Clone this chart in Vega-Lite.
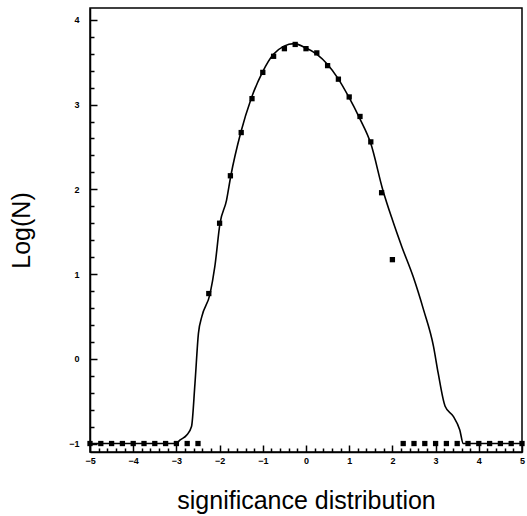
{
  "$schema": "https://vega.github.io/schema/vega-lite/v6.json",
  "width": 432,
  "height": 444,
  "autosize": {"type": "none"},
  "padding": {"left": 90, "top": 8, "right": 5, "bottom": 64},
  "background": "white",
  "config": {
    "view": {"stroke": "black", "strokeWidth": 1.5},
    "axis": {
      "grid": false,
      "ticks": true,
      "zindex": 1,
      "domainColor": "black",
      "domainWidth": 1.5,
      "tickColor": "black",
      "labelFont": "Liberation Sans",
      "labelFontSize": 9,
      "labelFontWeight": "bold",
      "labelColor": "black",
      "titleFont": "Liberation Sans",
      "titleFontSize": 25,
      "titleFontWeight": "normal",
      "titleColor": "black"
    }
  },
  "datasets": {
    "curve": [
      {"s": -5, "logn": -1},
      {"s": -3.0, "logn": -1},
      {"s": -2.92, "logn": -0.96},
      {"s": -2.76, "logn": -0.9},
      {"s": -2.65, "logn": -0.8},
      {"s": -2.57, "logn": -0.29},
      {"s": -2.49, "logn": 0.3},
      {"s": -2.41, "logn": 0.5},
      {"s": -2.22, "logn": 0.77},
      {"s": -2.11, "logn": 1.09},
      {"s": -1.99, "logn": 1.6},
      {"s": -1.84, "logn": 1.87},
      {"s": -1.74, "logn": 2.16},
      {"s": -1.51, "logn": 2.67},
      {"s": -1.27, "logn": 3.07},
      {"s": -1.01, "logn": 3.38},
      {"s": -0.76, "logn": 3.59},
      {"s": -0.51, "logn": 3.69},
      {"s": -0.28, "logn": 3.72},
      {"s": -0.01, "logn": 3.67},
      {"s": 0.26, "logn": 3.59},
      {"s": 0.49, "logn": 3.48},
      {"s": 0.74, "logn": 3.31},
      {"s": 0.99, "logn": 3.09},
      {"s": 1.24, "logn": 2.84},
      {"s": 1.5, "logn": 2.54},
      {"s": 1.78, "logn": 1.99},
      {"s": 2.0, "logn": 1.64},
      {"s": 2.22, "logn": 1.32},
      {"s": 2.48, "logn": 0.97},
      {"s": 2.72, "logn": 0.58},
      {"s": 2.95, "logn": 0.15},
      {"s": 3.06, "logn": -0.17},
      {"s": 3.22, "logn": -0.56},
      {"s": 3.41, "logn": -0.68},
      {"s": 3.56, "logn": -0.84},
      {"s": 3.64, "logn": -1},
      {"s": 5, "logn": -1}
    ],
    "points": [
      {"s": -5, "logn": -1}, {"s": -4.75, "logn": -1}, {"s": -4.5, "logn": -1}, {"s": -4.25, "logn": -1},
      {"s": -4, "logn": -1}, {"s": -3.75, "logn": -1}, {"s": -3.5, "logn": -1}, {"s": -3.25, "logn": -1},
      {"s": -3, "logn": -1}, {"s": -2.75, "logn": -1}, {"s": -2.5, "logn": -1},
      {"s": -2.25, "logn": 0.77},
      {"s": -2.0, "logn": 1.6},
      {"s": -1.75, "logn": 2.16},
      {"s": -1.5, "logn": 2.67},
      {"s": -1.25, "logn": 3.07},
      {"s": -1.0, "logn": 3.38},
      {"s": -0.75, "logn": 3.57},
      {"s": -0.5, "logn": 3.66},
      {"s": -0.25, "logn": 3.71},
      {"s": 0.0, "logn": 3.66},
      {"s": 0.25, "logn": 3.61},
      {"s": 0.5, "logn": 3.46},
      {"s": 0.75, "logn": 3.3},
      {"s": 1.0, "logn": 3.09},
      {"s": 1.25, "logn": 2.86},
      {"s": 1.5, "logn": 2.56},
      {"s": 1.75, "logn": 1.96},
      {"s": 2.0, "logn": 1.17},
      {"s": 2.25, "logn": -1}, {"s": 2.5, "logn": -1}, {"s": 2.75, "logn": -1}, {"s": 3.0, "logn": -1},
      {"s": 3.25, "logn": -1}, {"s": 3.5, "logn": -1}, {"s": 3.75, "logn": -1}, {"s": 4.0, "logn": -1},
      {"s": 4.25, "logn": -1}, {"s": 4.5, "logn": -1}, {"s": 4.75, "logn": -1}, {"s": 5.0, "logn": -1}
    ]
  },
  "encoding": {
    "x": {
      "field": "s",
      "type": "quantitative",
      "scale": {"domain": [-5, 5], "nice": false, "zero": false},
      "axis": {
        "title": "significance distribution",
        "values": [-5,-4.8,-4.6,-4.4,-4.2,-4,-3.8,-3.6,-3.4,-3.2,-3,-2.8,-2.6,-2.4,-2.2,-2,-1.8,-1.6,-1.4,-1.2,-1,-0.8,-0.6,-0.4,-0.2,0,0.2,0.4,0.6,0.8,1,1.2,1.4,1.6,1.8,2,2.2,2.4,2.6,2.8,3,3.2,3.4,3.6,3.8,4,4.2,4.4,4.6,4.8,5],
        "labelExpr": "abs(datum.value - round(datum.value)) < 0.001 ? format(datum.value, 'd') : ''",
        "tickSize": {"condition": {"test": "abs(datum.value - round(datum.value)) < 0.001", "value": -7}, "value": -4},
        "tickWidth": 1.5,
        "labelPadding": 11,
        "labelFlush": false,
        "labelOverlap": false,
        "titlePadding": 20
      }
    },
    "y": {
      "field": "logn",
      "type": "quantitative",
      "scale": {"domain": [-1.1, 4.14], "nice": false, "zero": false},
      "axis": {
        "title": "Log(N)",
        "values": [-1,-0.8,-0.6,-0.4,-0.2,0,0.2,0.4,0.6,0.8,1,1.2,1.4,1.6,1.8,2,2.2,2.4,2.6,2.8,3,3.2,3.4,3.6,3.8,4],
        "labelExpr": "abs(datum.value - round(datum.value)) < 0.001 ? format(datum.value, 'd') : ''",
        "tickSize": {"condition": {"test": "abs(datum.value - round(datum.value)) < 0.001", "value": -7}, "value": -4},
        "tickWidth": 1.5,
        "labelPadding": 18,
        "labelFlush": false,
        "labelOverlap": false,
        "titlePadding": 34
      }
    }
  },
  "layer": [
    {
      "data": {"name": "curve"},
      "mark": {"type": "line", "color": "black", "strokeWidth": 1.6, "interpolate": "monotone"}
    },
    {
      "data": {"name": "points"},
      "mark": {"type": "point", "shape": "square", "filled": true, "color": "black", "size": 28, "opacity": 1}
    }
  ]
}
